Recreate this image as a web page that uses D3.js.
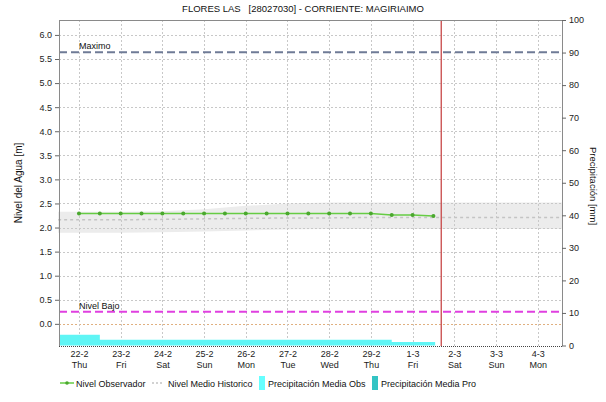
<!DOCTYPE html>
<html>
<head>
<meta charset="utf-8">
<script src="https://cdn.jsdelivr.net/npm/d3@7"></script>
<style>
  body { margin: 0; background: #fff; }
  svg { font-family: "Liberation Sans", Arial, sans-serif; }
</style>
</head>
<body>
<svg id="chart" width="606" height="402"></svg>
<script>
// datos
const title = 'FLORES LAS\u00a0\u00a0\u00a0[28027030] - CORRIENTE: MAGIRIAIMO'
const dayLabels = ['2024-02-22', '2024-02-23', '2024-02-24', '2024-02-25', '2024-02-26', '2024-02-27',
  '2024-02-28', '2024-02-29', '2024-03-01', '2024-03-02', '2024-03-03', '2024-03-04']
const obsTimes = ['2024-02-22T00:00', '2024-02-22T12:00', '2024-02-23T00:00', '2024-02-23T12:00',
  '2024-02-24T00:00', '2024-02-24T12:00', '2024-02-25T00:00', '2024-02-25T12:00',
  '2024-02-26T00:00', '2024-02-26T12:00', '2024-02-27T00:00', '2024-02-27T12:00',
  '2024-02-28T00:00', '2024-02-28T12:00', '2024-02-29T00:00', '2024-02-29T12:00',
  '2024-03-01T00:00', '2024-03-01T12:00']
const obsLevel = [2.29, 2.29, 2.29, 2.29, 2.29, 2.29, 2.29, 2.29, 2.29, 2.29, 2.29, 2.29,
  2.29, 2.29, 2.29, 2.26, 2.26, 2.24]
const histDays = ['2024-02-21T12:00', '2024-02-22', '2024-02-23', '2024-02-24', '2024-02-25', '2024-02-26',
  '2024-02-27', '2024-02-28', '2024-02-29', '2024-03-01', '2024-03-02', '2024-03-03', '2024-03-04', '2024-03-04T14:00']
const histUpper = [2.33, 2.33, 2.33, 2.34, 2.38, 2.45, 2.5, 2.52, 2.52, 2.52, 2.52, 2.52, 2.52, 2.52]
const histLower = [1.89, 1.89, 1.89, 1.9, 1.92, 1.94, 1.96, 1.97, 1.97, 1.97, 1.97, 1.97, 1.97, 1.97]
const histMean = [2.16, 2.16, 2.16, 2.17, 2.18, 2.19, 2.2, 2.2, 2.21, 2.21, 2.21, 2.21, 2.21, 2.21]
const precipStart = ['2024-02-21T12:00', '2024-02-22T12:00', '2024-02-23T12:00', '2024-02-24T12:00',
  '2024-02-25T12:00', '2024-02-26T12:00', '2024-02-27T12:00', '2024-02-28T12:00', '2024-02-29T12:00']
const precipObs = [3.3, 1.8, 1.8, 1.8, 1.8, 1.8, 1.8, 1.8, 1.1]
const precipEnd = '2024-03-01T13:00'
const levelMax = 5.64
const levelLow = 0.25
const nowTime = '2024-03-01T16:30'
const leftTicks = [0, 0.5, 1, 1.5, 2, 2.5, 3, 3.5, 4, 4.5, 5, 5.5, 6]
const rightTicks = [0, 10, 20, 30, 40, 50, 60, 70, 80, 90, 100]

const parse = s => new Date(s.length === 10 ? s + 'T00:00' : s)

const svg = d3.select('#chart')
const pLeft = 59
const pRight = 562
const pTop = 20
const pBottom = 346

const x = d3.scaleTime()
  .domain([parse('2024-02-21T12:30'), parse('2024-03-04T14:00')])
  .range([pLeft, pRight])
const y = d3.scaleLinear().domain([-0.46, 6.31]).range([pBottom, pTop])
const yR = d3.scaleLinear().domain([0, 100]).range([345.5, pTop])

// titulo
svg.append('text')
  .attr('x', 303).attr('y', 12)
  .attr('text-anchor', 'middle')
  .attr('font-size', 9.5)
  .attr('fill', '#111')
  .text(title)

// banda historica
const band = histDays.map((d, i) => ({ t: parse(d), hi: histUpper[i], lo: histLower[i], m: histMean[i] }))
svg.append('path')
  .datum(band)
  .attr('fill', '#ececec')
  .attr('d', d3.area().x(d => x(d.t)).y0(d => y(d.lo)).y1(d => y(d.hi)))

// rejilla
const grid = svg.append('g').attr('stroke', '#c8c8c8').attr('stroke-dasharray', '2,2').attr('stroke-width', 1)
grid.selectAll('.h').data(leftTicks).enter()
  .append('line')
  .attr('x1', pLeft).attr('x2', pRight)
  .attr('y1', d => Math.round(y(d)) + 0.5).attr('y2', d => Math.round(y(d)) + 0.5)
  .attr('stroke', d => d === 0 ? '#e0b080' : null)
grid.selectAll('.v').data(dayLabels).enter()
  .append('line')
  .attr('x1', d => Math.round(x(parse(d))) + 0.5).attr('x2', d => Math.round(x(parse(d))) + 0.5)
  .attr('y1', pTop).attr('y2', pBottom)

// precipitacion
const precip = precipStart.map((d, i) => ({ t: parse(d), v: precipObs[i] }))
precip.push({ t: parse(precipEnd), v: precipObs[precipObs.length - 1] })
svg.append('path')
  .datum(precip)
  .attr('fill', '#5ff5f5')
  .attr('d', d3.area().curve(d3.curveStepAfter).x(d => Math.max(pLeft, x(d.t))).y0(yR(0)).y1(d => yR(d.v)))

// media historica
svg.append('path')
  .datum(band)
  .attr('fill', 'none')
  .attr('stroke', '#c4c4c4')
  .attr('stroke-width', 1.5)
  .attr('stroke-dasharray', '3,3')
  .attr('d', d3.line().x(d => x(d.t)).y(d => y(d.m)))

// niveles de referencia
svg.append('line')
  .attr('x1', pLeft).attr('x2', pRight)
  .attr('y1', y(levelMax)).attr('y2', y(levelMax))
  .attr('stroke', '#6f7b96').attr('stroke-width', 2).attr('stroke-dasharray', '8,4')
svg.append('text')
  .attr('x', 79).attr('y', y(levelMax) - 3)
  .attr('font-size', 9).attr('fill', '#111')
  .text('Maximo')
svg.append('line')
  .attr('x1', pLeft).attr('x2', pRight)
  .attr('y1', y(levelLow)).attr('y2', y(levelLow))
  .attr('stroke', '#e040e0').attr('stroke-width', 2).attr('stroke-dasharray', '8,4')
svg.append('text')
  .attr('x', 79).attr('y', y(levelLow) - 3)
  .attr('font-size', 9).attr('fill', '#111')
  .text('Nivel Bajo')

// nivel observado
const obs = obsTimes.map((d, i) => ({ t: parse(d), v: obsLevel[i] }))
svg.append('path')
  .datum(obs)
  .attr('fill', 'none')
  .attr('stroke', '#66cc44')
  .attr('stroke-width', 1.5)
  .attr('d', d3.line().x(d => x(d.t)).y(d => y(d.v)))
svg.selectAll('.pt').data(obs).enter()
  .append('circle')
  .attr('cx', d => x(d.t)).attr('cy', d => y(d.v))
  .attr('r', 2)
  .attr('fill', '#4aa82e')

// hora actual
svg.append('line')
  .attr('x1', x(parse(nowTime))).attr('x2', x(parse(nowTime)))
  .attr('y1', pTop).attr('y2', pBottom)
  .attr('stroke', '#c84848').attr('stroke-width', 1.3)

// ejes
const frame = svg.append('g').attr('stroke', '#8a8a8a').attr('stroke-width', 1)
frame.append('line').attr('x1', pLeft + 0.5).attr('x2', pLeft + 0.5).attr('y1', pTop).attr('y2', pBottom)
frame.append('line').attr('x1', pRight + 0.5).attr('x2', pRight + 0.5).attr('y1', pTop).attr('y2', pBottom)
frame.append('line').attr('x1', pLeft).attr('x2', pRight).attr('y1', pTop + 0.5).attr('y2', pTop + 0.5)
svg.append('line')
  .attr('x1', pLeft).attr('x2', pRight).attr('y1', pBottom + 0.5).attr('y2', pBottom + 0.5)
  .attr('stroke', '#444').attr('stroke-dasharray', '1,1')

const axisL = svg.append('g')
  .attr('transform', `translate(${pLeft},0)`)
  .call(d3.axisLeft(y).tickValues(leftTicks).tickFormat(d3.format('.1f')).tickSize(4).tickPadding(3))
const axisR = svg.append('g')
  .attr('transform', `translate(${pRight},0)`)
  .call(d3.axisRight(yR).tickValues(rightTicks).tickSize(4).tickPadding(3))
const fmtDate = d3.timeFormat('%-d-%-m')
const fmtDay = d3.timeFormat('%a')
const axisB = svg.append('g')
  .attr('transform', `translate(0,${pBottom})`)
  .call(d3.axisBottom(x).tickValues(dayLabels.map(parse)).tickFormat(fmtDate).tickSize(0).tickPadding(5))
axisB.selectAll('.tick')
  .append('text')
  .attr('y', 16)
  .attr('dy', '0.71em')
  .attr('fill', '#222')
  .text(d => fmtDay(d))
;[axisL, axisR, axisB].forEach(a => {
  a.select('.domain').remove()
  a.selectAll('.tick line').attr('stroke', '#666')
  a.selectAll('text').attr('font-size', 9).attr('fill', '#222')
    .attr('font-family', '"Liberation Sans", Arial, sans-serif')
})

// titulos de ejes
svg.append('text')
  .attr('transform', 'translate(22,183) rotate(-90)')
  .attr('text-anchor', 'middle')
  .attr('font-size', 10).attr('fill', '#111')
  .text('Nivel del Agua [m]')
svg.append('text')
  .attr('transform', 'translate(590,186) rotate(90)')
  .attr('text-anchor', 'middle')
  .attr('font-size', 9.5).attr('fill', '#111')
  .text('Precipitación [mm]')

// leyenda
const lg = svg.append('g').attr('font-size', 9).attr('fill', '#111')
lg.append('line').attr('x1', 60).attr('x2', 74).attr('y1', 383).attr('y2', 383)
  .attr('stroke', '#66cc44').attr('stroke-width', 1.5)
lg.append('circle').attr('cx', 67).attr('cy', 383).attr('r', 1.8).attr('fill', '#4aa82e')
lg.append('text').attr('x', 76).attr('y', 386.5).text('Nivel Observador')
lg.append('line').attr('x1', 152).attr('x2', 164).attr('y1', 383).attr('y2', 383)
  .attr('stroke', '#c4c4c4').attr('stroke-width', 1.5).attr('stroke-dasharray', '2,2')
lg.append('text').attr('x', 168).attr('y', 386.5).text('Nivel Medio Historico')
lg.append('rect').attr('x', 259).attr('y', 376).attr('width', 6).attr('height', 14).attr('fill', '#66ffff')
lg.append('text').attr('x', 268).attr('y', 386.5).text('Precipitación Media Obs')
lg.append('rect').attr('x', 372).attr('y', 376).attr('width', 6).attr('height', 14).attr('fill', '#33c4c4')
lg.append('text').attr('x', 381).attr('y', 386.5).text('Precipitación Media Pro')
</script>
</body>
</html>
